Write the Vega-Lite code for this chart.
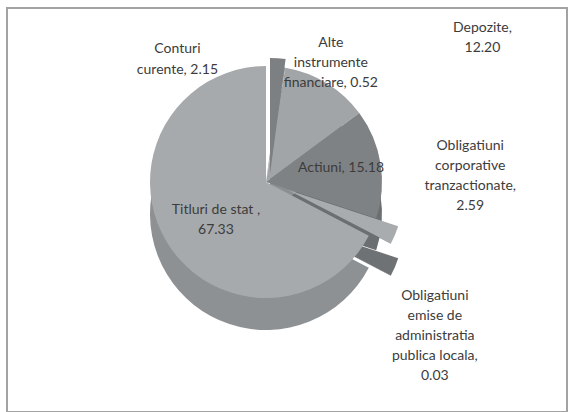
{
  "$schema": "https://vega.github.io/schema/vega-lite/v6.json",
  "width": 560,
  "height": 404,
  "autosize": {"type": "none"},
  "padding": {"left": 7, "top": 8, "right": 4, "bottom": 0},
  "background": "#ffffff",
  "config": {"view": {"stroke": null}, "text": {"font": "Lato"}},
  "data": {
    "values": [
      {"cat": "Conturi curente", "value": 2.15, "order": 1, "label": "Conturi\ncurente, 2.15"},
      {"cat": "Alte instrumente financiare", "value": 0.52, "order": 2, "label": "Alte\ninstrumente\nfinanciare, 0.52"},
      {"cat": "Depozite", "value": 12.20, "order": 3, "label": "Depozite,\n12.20"},
      {"cat": "Actiuni", "value": 15.18, "order": 4, "label": "Actiuni, 15.18"},
      {"cat": "Obligatiuni corporative tranzactionate", "value": 2.59, "order": 5, "label": "Obligatiuni\ncorporative\ntranzactionate,\n2.59"},
      {"cat": "Obligatiuni emise de administratia publica locala", "value": 0.03, "order": 6, "label": "Obligatiuni\nemise de\nadministratia\npublica locala,\n0.03"},
      {"cat": "Titluri de stat", "value": 67.33, "order": 7, "label": "Titluri de stat ,\n67.33"}
    ]
  },
  "layer": [
    {
      "mark": {"type": "rect", "x": 0, "y": 0, "x2": "width", "y2": "height", "fill": "transparent", "stroke": "#a3a3a3", "strokeWidth": 1.5},
      "encoding": {}
    },
    {
      "encoding": {
        "theta": {"field": "value", "type": "quantitative", "stack": true},
        "order": {"field": "order", "type": "quantitative"}
      },
      "layer": [
        {
          "mark": {"type": "arc", "radius": 116, "xOffset": -17, "yOffset": -4},
          "encoding": {
            "color": {"value": "#6a6d6f"},
            "opacity": {"condition": {"test": "datum.order == 1", "value": 1}, "value": 0}
          }
        },
        {
          "mark": {"type": "arc", "radius": 116, "xOffset": -21, "yOffset": 4},
          "encoding": {
            "color": {"field": "cat", "type": "nominal", "legend": null,
              "scale": {"domain": ["Conturi curente", "Alte instrumente financiare", "Depozite", "Actiuni", "Obligatiuni corporative tranzactionate", "Obligatiuni emise de administratia publica locala", "Titluri de stat"],
                        "range": ["#6a6d6f", "#85888a", "#8c8f91", "#6c6f71", "#8a8d8f", "#54575a", "#8e9193"]}},
            "opacity": {"condition": {"test": "datum.order == 1 || datum.order == 5 || datum.order == 6", "value": 0}, "value": 1}
          }
        },
        {
          "mark": {"type": "arc", "radius": 116, "xOffset": 1, "yOffset": 12},
          "encoding": {
            "color": {"field": "cat", "type": "nominal", "legend": null,
              "scale": {"domain": ["Obligatiuni corporative tranzactionate", "Obligatiuni emise de administratia publica locala"], "range": ["#6f7274", "#54575a"]}},
            "opacity": {"condition": {"test": "datum.order == 5 || datum.order == 6", "value": 1}, "value": 0}
          }
        },
        {
          "mark": {"type": "arc", "radius": 116, "xOffset": -21, "yOffset": -28},
          "encoding": {
            "color": {"field": "cat", "type": "nominal", "legend": null,
              "scale": {"domain": ["Conturi curente", "Alte instrumente financiare", "Depozite", "Actiuni", "Obligatiuni corporative tranzactionate", "Obligatiuni emise de administratia publica locala", "Titluri de stat"],
                        "range": ["#7d8082", "#9a9da0", "#a2a5a7", "#7f8284", "#a9acae", "#5e6163", "#a7aaac"]}},
            "opacity": {"condition": {"test": "datum.order == 1 || datum.order == 5 || datum.order == 6", "value": 0}, "value": 1}
          }
        },
        {
          "mark": {"type": "arc", "radius": 116, "xOffset": -17, "yOffset": -36},
          "encoding": {
            "color": {"value": "#7d8082"},
            "opacity": {"condition": {"test": "datum.order == 1", "value": 1}, "value": 0}
          }
        },
        {
          "mark": {"type": "arc", "radius": 116, "xOffset": 1, "yOffset": -20},
          "encoding": {
            "color": {"field": "cat", "type": "nominal", "legend": null,
              "scale": {"domain": ["Obligatiuni corporative tranzactionate", "Obligatiuni emise de administratia publica locala"], "range": ["#a9acae", "#5e6163"]}},
            "opacity": {"condition": {"test": "datum.order == 5 || datum.order == 6", "value": 1}, "value": 0}
          }
        },
        {
          "mark": {"type": "text", "radius": 125, "dx": -97, "dy": -8, "xOffset": -21, "yOffset": -28, "lineBreak": "\n", "fontSize": 14, "lineHeight": 21, "fill": "#3c3c3c"},
          "encoding": {"text": {"field": "label"}, "opacity": {"condition": {"test": "datum.order == 1", "value": 1}, "value": 0}}
        },
        {
          "mark": {"type": "text", "radius": 125, "dx": 46, "dy": -15, "xOffset": -21, "yOffset": -28, "lineBreak": "\n", "fontSize": 14, "lineHeight": 20, "fill": "#3c3c3c"},
          "encoding": {"text": {"field": "label"}, "opacity": {"condition": {"test": "datum.order == 2", "value": 1}, "value": 0}}
        },
        {
          "mark": {"type": "text", "radius": 125, "dx": 151, "dy": -48, "xOffset": -21, "yOffset": -28, "lineBreak": "\n", "fontSize": 14, "lineHeight": 20, "fill": "#3c3c3c"},
          "encoding": {"text": {"field": "label"}, "opacity": {"condition": {"test": "datum.order == 3", "value": 1}, "value": 0}}
        },
        {
          "mark": {"type": "text", "radius": 76, "dy": -2, "xOffset": -21, "yOffset": -28, "lineBreak": "\n", "fontSize": 14, "lineHeight": 20, "fill": "#3c3c3c"},
          "encoding": {"text": {"field": "label"}, "opacity": {"condition": {"test": "datum.order == 4", "value": 1}, "value": 0}}
        },
        {
          "mark": {"type": "text", "radius": 125, "dx": 89, "dy": -85, "xOffset": -21, "yOffset": -28, "lineBreak": "\n", "fontSize": 14, "lineHeight": 20, "fill": "#3c3c3c"},
          "encoding": {"text": {"field": "label"}, "opacity": {"condition": {"test": "datum.order == 5", "value": 1}, "value": 0}}
        },
        {
          "mark": {"type": "text", "radius": 125, "dx": 58, "dy": 56, "xOffset": -21, "yOffset": -28, "lineBreak": "\n", "fontSize": 14, "lineHeight": 20, "fill": "#3c3c3c"},
          "encoding": {"text": {"field": "label"}, "opacity": {"condition": {"test": "datum.order == 6", "value": 1}, "value": 0}}
        },
        {
          "mark": {"type": "text", "radius": 62, "dx": 3, "dy": -4, "xOffset": -21, "yOffset": -28, "lineBreak": "\n", "fontSize": 14, "lineHeight": 20, "fill": "#3c3c3c"},
          "encoding": {"text": {"field": "label"}, "opacity": {"condition": {"test": "datum.order == 7", "value": 1}, "value": 0}}
        }
      ],
      "resolve": {"scale": {"color": "independent"}}
    }
  ]
}
